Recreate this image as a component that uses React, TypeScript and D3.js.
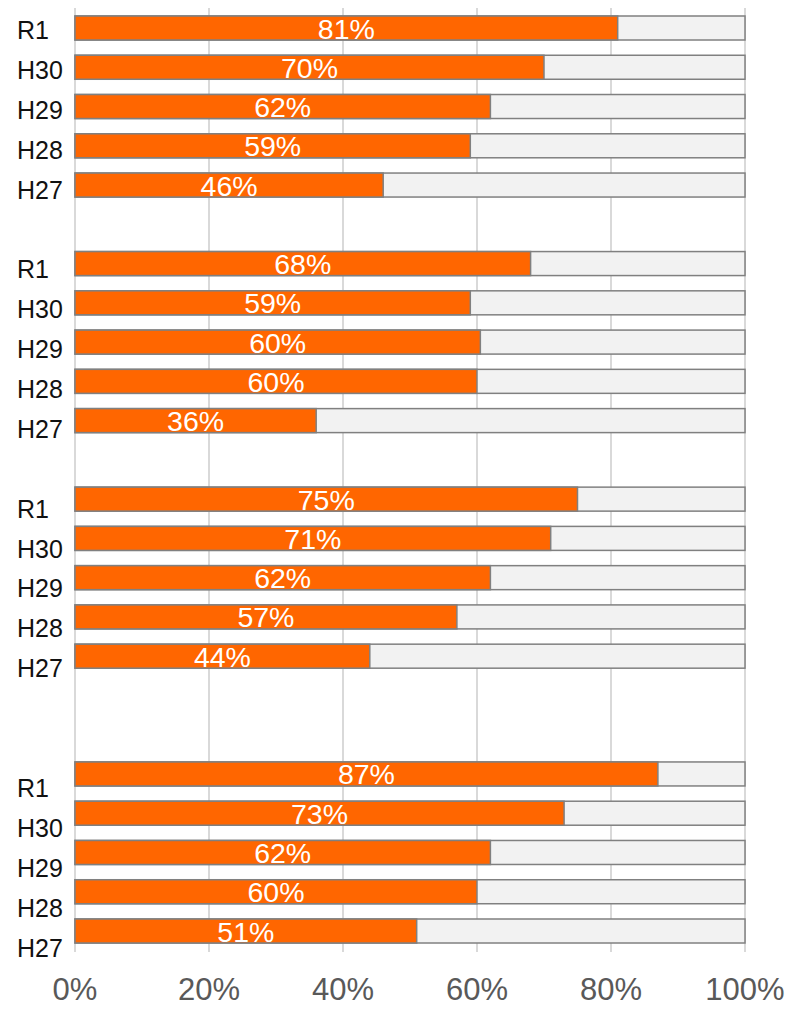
import React from "react";
import * as d3 from "d3";

const groups = ["G1", "G2", "G3", "G4"];
const years = ["R1", "H30", "H29", "H28", "H27"];
const values1 = [81, 70, 62, 59, 46];
const values2 = [68, 59, 60.5, 60, 36];
const values3 = [75, 71, 62, 57, 44];
const values4 = [87, 73, 62, 60, 51];
const labels1 = ["81%", "70%", "62%", "59%", "46%"];
const labels2 = ["68%", "59%", "60%", "60%", "36%"];
const labels3 = ["75%", "71%", "62%", "57%", "44%"];
const labels4 = ["87%", "73%", "62%", "60%", "51%"];
const groupSlotStart = [0, 6, 12, 19];
const xTicks = [0, 20, 40, 60, 80, 100];

const allValues = [values1, values2, values3, values4];
const allLabels = [labels1, labels2, labels3, labels4];

const W = 788;
const H = 1012;
const FONT = "'Liberation Sans', Arial, sans-serif";

export default function App() {
  const x = d3.scaleLinear().domain([0, 100]).range([75, 745]);
  const barY = d3.scaleLinear().domain([0, 23]).range([16, 919]);
  const labelY = d3.scaleLinear().domain([0, 23]).range([39, 956.5]);
  const barH = 24;

  const rows = groups.flatMap((g, gi) =>
    years.map((yr, i) => ({
      key: `${g}-${yr}`,
      year: yr,
      value: allValues[gi][i],
      label: allLabels[gi][i],
      slot: groupSlotStart[gi] + i,
    }))
  );

  return (
    <svg
      width={W}
      height={H}
      style={{ position: "absolute", left: 0, top: 0, background: "#fff" }}
      fontFamily={FONT}
    >
      {xTicks.map((t) => (
        <line
          key={`g${t}`}
          x1={x(t)}
          x2={x(t)}
          y1={8}
          y2={952}
          stroke="#d9d9d9"
          strokeWidth={2}
        />
      ))}
      {rows.map((r) => {
        const y = barY(r.slot);
        return (
          <g key={r.key}>
            <rect
              x={x(0)}
              y={y}
              width={x(100) - x(0)}
              height={barH}
              fill="#f2f2f2"
              stroke="#808080"
              strokeWidth={1.5}
            />
            <rect
              x={x(0)}
              y={y}
              width={x(r.value) - x(0)}
              height={barH}
              fill="#ff6600"
              stroke="#808080"
              strokeWidth={1.5}
            />
            <text
              x={(x(0) + x(r.value)) / 2}
              y={y + barH - 1.5}
              textAnchor="middle"
              fill="#ffffff"
              fontSize={28.5}
            >
              {r.label}
            </text>
            <text x={17} y={labelY(r.slot)} fill="#111" fontSize={25}>
              {r.year}
            </text>
          </g>
        );
      })}
      {xTicks.map((t) => (
        <text
          key={`t${t}`}
          x={x(t)}
          y={1000}
          textAnchor="middle"
          fill="#595959"
          fontSize={31}
        >
          {`${t}%`}
        </text>
      ))}
    </svg>
  );
}
